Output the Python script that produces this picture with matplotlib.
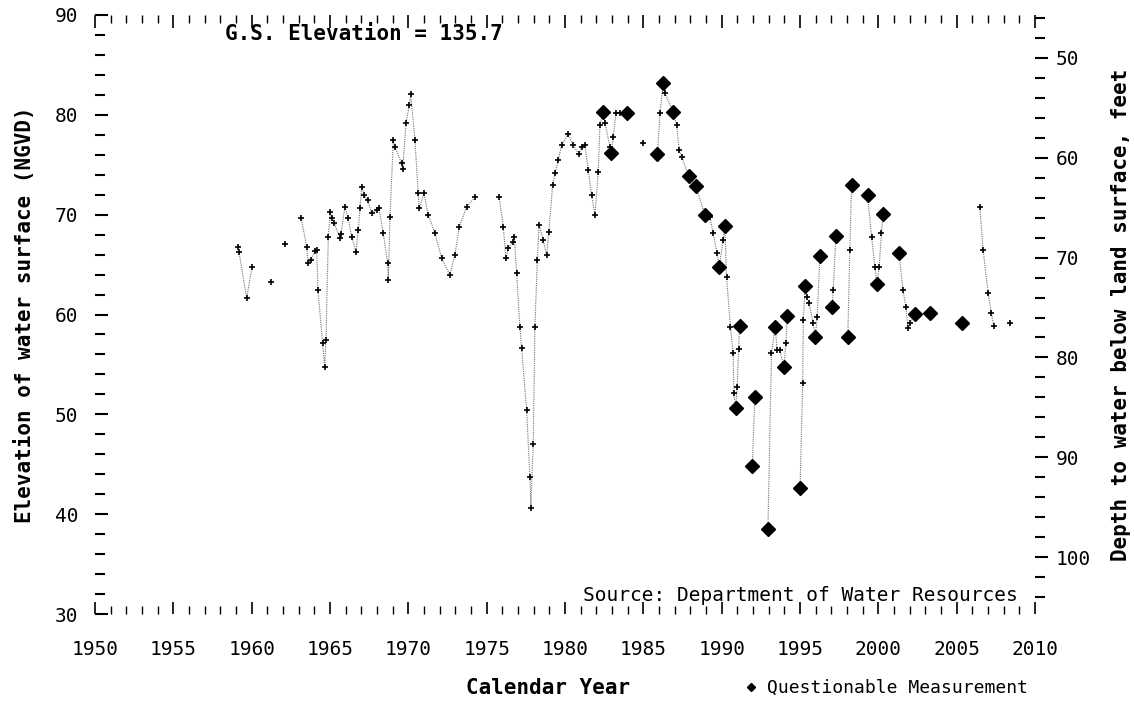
import numpy as np
import matplotlib
matplotlib.use('Agg')
import matplotlib.pyplot as plt
from matplotlib.lines import Line2D
from matplotlib.ticker import MultipleLocator

# ------------------------------------------------------------
# Water level record (NaN rows split the record into segments)
# q = 1 marks a questionable measurement
# ------------------------------------------------------------
nan = np.nan
year = [
    1959.13, 1959.19, 1959.68, 1960.02, nan,
    1961.21, nan,
    1962.13, nan,
    1963.15, 1963.51, 1963.61, 1963.78, 1964.04, 1964.15, 1964.23, 1964.53,
    1964.66, 1964.74, 1964.89, 1965.02, 1965.11, 1965.27, 1965.64, 1965.70,
    1965.95, 1966.16, 1966.38, 1966.66, 1966.80, 1966.91, 1967.02, 1967.19,
    1967.40, 1967.66, 1967.98, 1968.12, 1968.40, 1968.68, 1968.72, 1968.83,
    1969.04, 1969.15, 1969.57, 1969.64, 1969.85, 1970.06, 1970.15, 1970.42,
    1970.63, 1970.70, 1971.00, 1971.27, 1971.70, 1972.13, 1972.65, 1972.97,
    1973.25, 1973.72, 1974.25, nan,
    1975.80, 1976.06, 1976.23, 1976.38, 1976.66, 1976.76, 1976.91, 1977.12,
    1977.23, 1977.55, 1977.76, 1977.82, 1977.97, 1978.08, 1978.23, 1978.35,
    1978.61, 1978.83, 1978.97, 1979.21, 1979.36, 1979.57, 1979.78, 1980.20,
    1980.52, 1980.89, 1981.06, 1981.27, 1981.48, 1981.70, 1981.91, 1982.12,
    1982.23, 1982.44, 1982.55, 1982.87, 1982.93, 1983.08, 1983.25, 1983.50,
    1983.93, nan,
    1984.95, nan,
    1985.90, 1986.06, 1986.27, 1986.38, 1986.91, 1987.12, 1987.29, 1987.44,
    1987.91, 1988.35, 1988.93, 1989.25, 1989.46, 1989.71, 1989.84, 1990.10,
    1990.20, 1990.31, 1990.56, 1990.73, 1990.78, 1990.89, 1990.99, 1991.08,
    1991.14, nan,
    1991.95, 1992.12, nan,
    1992.95, 1993.18, 1993.41, 1993.54, 1993.71, 1993.97, 1994.10, 1994.18, nan,
    1995.00, 1995.17, 1995.21, 1995.33, 1995.42, 1995.58, 1995.84, 1995.97,
    1996.10, 1996.27, nan,
    1997.05, 1997.12, 1997.29, nan,
    1998.05, 1998.18, 1998.29, nan,
    1999.31, 1999.57, 1999.78, 1999.92, 2000.05, 2000.20, 2000.31, nan,
    2001.31, 2001.58, 2001.75, 2001.90, 2002.01, 2002.35, nan,
    2003.29, nan,
    2005.33, nan,
    2006.48, 2006.69, 2007.01, 2007.22, 2007.37, nan,
    2008.39,
]
elev = [
    66.75, 66.25, 61.64, 64.75, nan,
    63.22, nan,
    67.05, nan,
    69.69, 66.78, 65.18, 65.45, 66.35, 66.45, 62.44, 57.13,
    54.76, 57.43, 67.79, 70.29, 69.66, 69.16, 67.66, 68.06,
    70.79, 69.63, 67.79, 66.28, 68.46, 70.63, 72.80, 71.96,
    71.46, 70.13, 70.46, 70.66, 68.13, 65.12, 63.45, 69.79,
    77.47, 76.80, 75.14, 74.54, 79.15, 80.98, 82.06, 77.47,
    72.13, 70.63, 72.13, 69.96, 68.13, 65.62, 63.95, 65.95,
    68.79, 70.79, 71.73, nan,
    71.79, 68.79, 65.62, 66.62, 67.28, 67.79, 64.12, 58.77,
    56.60, 50.42, 43.74, 40.57, 47.08, 58.77, 65.45, 68.96,
    67.46, 65.95, 68.29, 72.97, 74.14, 75.47, 76.97, 78.08,
    76.97, 76.04, 76.74, 76.97, 74.47, 71.96, 69.96, 74.30,
    78.98, 80.25, 79.15, 76.80, 76.14, 77.81, 80.15, 80.21,
    80.21, nan,
    77.14, nan,
    76.07, 80.15, 83.22, 82.15, 80.31, 78.98, 76.47, 75.80,
    73.87, 72.87, 69.96, 69.79, 68.13, 66.12, 64.78, 67.46,
    68.86, 63.78, 58.77, 56.10, 52.09, 50.65, 52.76, 56.50,
    58.80, nan,
    44.80, 51.75, nan,
    38.50, 56.10, 58.77, 56.43, 56.43, 54.70, 57.10, 59.84, nan,
    42.60, 53.10, 59.44, 62.85, 61.77, 61.11, 59.11, 57.70,
    59.77, 65.85, nan,
    60.77, 62.44, 67.86, nan,
    57.77, 66.45, 72.97, nan,
    71.96, 67.79, 64.78, 63.02, 64.78, 68.13, 70.06, nan,
    66.12, 62.44, 60.77, 58.60, 59.11, 60.04, nan,
    60.11, nan,
    59.11, nan,
    70.73, 66.45, 62.11, 60.11, 58.87, nan,
    59.11,
]
q = [
    0, 0, 0, 0, 0,
    0, 0,
    0, 0,
    0, 0, 0, 0, 0, 0, 0, 0,
    0, 0, 0, 0, 0, 0, 0, 0,
    0, 0, 0, 0, 0, 0, 0, 0,
    0, 0, 0, 0, 0, 0, 0, 0,
    0, 0, 0, 0, 0, 0, 0, 0,
    0, 0, 0, 0, 0, 0, 0, 0,
    0, 0, 0, 0,
    0, 0, 0, 0, 0, 0, 0, 0,
    0, 0, 0, 0, 0, 0, 0, 0,
    0, 0, 0, 0, 0, 0, 0, 0,
    0, 0, 0, 0, 0, 0, 0, 0,
    0, 1, 0, 0, 1, 0, 0, 0,
    1, 0,
    0, 0,
    1, 0, 1, 0, 1, 0, 0, 0,
    1, 1, 1, 0, 0, 0, 1, 0,
    1, 0, 0, 0, 0, 1, 0, 0,
    1, 0,
    1, 1, 0,
    1, 0, 1, 0, 0, 1, 0, 1, 0,
    1, 0, 0, 1, 0, 0, 0, 1,
    0, 1, 0,
    1, 0, 1, 0,
    1, 0, 1, 0,
    1, 0, 0, 1, 0, 0, 1, 0,
    1, 0, 0, 0, 0, 1, 0,
    1, 0,
    1, 0,
    0, 0, 0, 0, 0, 0,
    0,
]

gs_elev = 135.7
x_ticks = list(range(1950, 2011, 5))
y_ticks = [30, 40, 50, 60, 70, 80, 90]
depth_ticks = [50, 60, 70, 80, 90, 100]

year = np.array(year)
elev = np.array(elev)
q = np.array(q, dtype=bool)
ok = ~q & ~np.isnan(elev)

MONO = 'DejaVu Sans Mono'
plt.rcParams['font.family'] = MONO

fig = plt.figure(figsize=(11.34, 7.07), dpi=100)
ax = fig.add_axes([0.0838, 0.1315, 0.8289, 0.8473])

ax.plot(year, elev, color='0.45', lw=0.8, ls=(0, (1, 1)), zorder=2)
ax.plot(year[ok], elev[ok], ls='', marker='+', ms=4.5, mew=1.2,
        color='black', zorder=3)
ax.plot(year[q], elev[q], ls='', marker='D', ms=7.5, color='black', zorder=4)

ax.set_xlim(1950, 2010)
ax.set_ylim(30, 90)
for s in ax.spines.values():
    s.set_visible(False)

ax.set_xticks(x_ticks)
ax.xaxis.set_minor_locator(MultipleLocator(1))
ax.set_yticks(y_ticks)
ax.yaxis.set_minor_locator(MultipleLocator(2))
ax.tick_params(which='both', direction='in', top=True, right=False,
               color='black')
ax.tick_params(axis='x', which='major', length=9, width=1.2, pad=19,
               labelsize=14)
ax.tick_params(axis='x', which='minor', length=6, width=1.0)
ax.tick_params(axis='y', which='major', length=9, width=1.5, pad=12,
               labelsize=14)
ax.tick_params(axis='y', which='minor', length=7, width=1.5)

ax.set_ylabel('Elevation of water surface (NGVD)', fontsize=15,
              fontweight='bold', labelpad=14)

# right-hand axis: depth below land surface
sec = ax.secondary_yaxis('right', functions=(lambda e: gs_elev - e,
                                             lambda d: gs_elev - d))
sec.spines['right'].set_visible(False)
sec.set_yticks(depth_ticks)
sec.yaxis.set_minor_locator(MultipleLocator(2))
sec.tick_params(which='major', direction='out', length=9, width=1.5,
                pad=6, labelsize=14)
sec.tick_params(which='minor', direction='out', length=7, width=1.5)
sec.set_ylabel('Depth to water below land surface, feet', fontsize=15,
               fontweight='bold', labelpad=14)

ax.text(0.138, 0.985, f'G.S. Elevation = {gs_elev}', transform=ax.transAxes,
        fontsize=15, fontweight='bold', va='top', ha='left')
ax.text(0.982, 0.015, 'Source: Department of Water Resources',
        transform=ax.transAxes, fontsize=14, ha='right', va='bottom')

fig.text(0.483, 0.027, 'Calendar Year', fontsize=15, fontweight='bold',
         ha='center', va='center')

handle = Line2D([], [], ls='', marker='D', ms=4, color='black')
fig.legend([handle], ['Questionable Measurement'], loc='center left',
           bbox_to_anchor=(0.64, 0.027), frameon=False, fontsize=13,
           handletextpad=0.4, handlelength=1.0)

fig.savefig('out.png', dpi=100)
